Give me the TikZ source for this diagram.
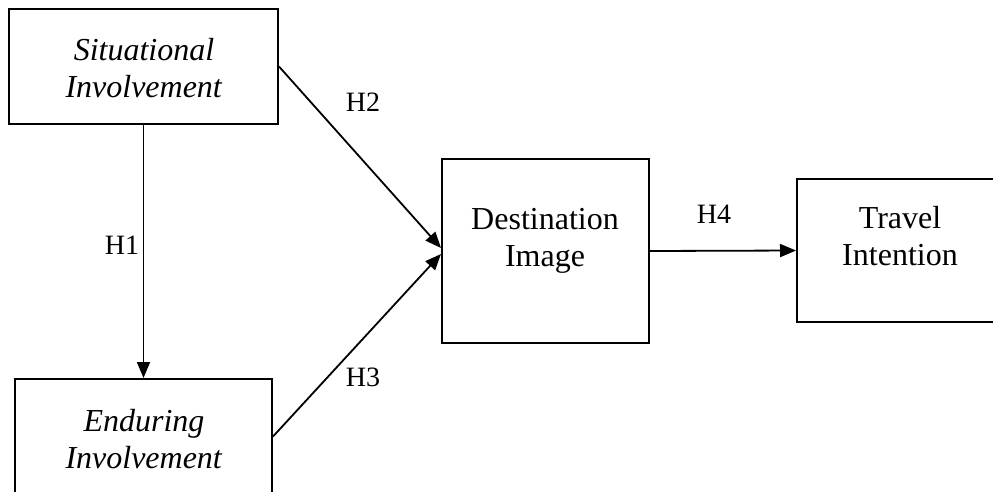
\documentclass[tikz,border=0pt]{standalone}
\usepackage{fontspec}
\setmainfont{Liberation Serif}
\usetikzlibrary{arrows.meta}
\begin{document}
\begin{tikzpicture}[x=1pt,y=-1pt,
  box/.style={draw, line width=2pt, rectangle, inner sep=0pt},
  boxtext/.style={align=center, font=\fontsize{32}{37.5}\selectfont, inner sep=0pt},
  hyp/.style={font=\fontsize{28}{30}\selectfont, inner sep=0pt},
  link/.style={line width=1.8pt, -{Triangle[length=16pt,width=13pt]}}]
  \fill[white] (0,0) rectangle (993,491);
  \useasboundingbox (0,0) rectangle (993,491);
  \clip (0,0) rectangle (993,491);

  % construct boxes
  \node[box, minimum width=269pt, minimum height=115pt] (sit) at (143.5,66.5) {};
  \node[box, minimum width=257pt, minimum height=115pt] (end) at (143.5,436.5) {};
  \node[box, minimum width=207pt, minimum height=184pt] (dest) at (545.5,251) {};
  \node[box, minimum width=206pt, minimum height=143pt] (trav) at (900,250.5) {};

  % box labels
  \node[boxtext] (sitT) at (144,68) {\textit{Situational}\\\textit{Involvement}};
  \node[boxtext] (endT) at (144,439) {\textit{Enduring}\\\textit{Involvement}};
  \node[boxtext] (destT) at (545,241) {Destination\\Image};
  \node[boxtext] (travT) at (900,236) {Travel\\Intention};

  % hypothesised paths
  \draw[link] (sit.south) -- (end.north);
  \draw[link] (sit.east) -- ([yshift=3pt]dest.west);
  \draw[link] (end.east) -- ([yshift=-3pt]dest.west);
  \draw[link] (dest.east) -- (trav.west);

  % path labels
  \node[hyp] (h1) at (122,245) {H1};
  \node[hyp] (h2) at (363,102) {H2};
  \node[hyp] (h3) at (363,377) {H3};
  \node[hyp] (h4) at (714,214) {H4};
\end{tikzpicture}
\end{document}
